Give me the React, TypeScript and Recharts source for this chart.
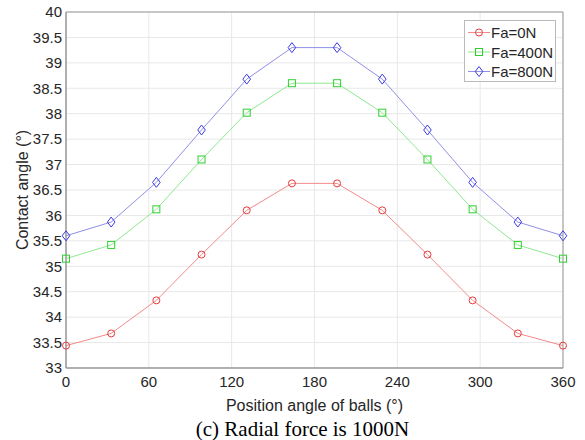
import React from 'react';
import { LineChart, Line, XAxis, YAxis, CartesianGrid, ReferenceArea } from 'recharts';

// ball position angles (12 balls, evenly spaced)
const positions = [0, 32.73, 65.45, 98.18, 130.91, 163.64, 196.36, 229.09, 261.82, 294.55, 327.27, 360];
const fa0 = [33.44, 33.68, 34.33, 35.23, 36.1, 36.63, 36.63, 36.1, 35.23, 34.33, 33.68, 33.44];
const fa400 = [35.15, 35.42, 36.12, 37.1, 38.02, 38.6, 38.6, 38.02, 37.1, 36.12, 35.42, 35.15];
const fa800 = [35.6, 35.87, 36.65, 37.68, 38.68, 39.3, 39.3, 38.68, 37.68, 36.65, 35.87, 35.6];
const xTicks = [0, 60, 120, 180, 240, 300, 360];
const yTicks = [33, 33.5, 34, 34.5, 35, 35.5, 36, 36.5, 37, 37.5, 38, 38.5, 39, 39.5, 40];

const data = positions.map((p, i) => ({ pos: p, a: fa0[i], b: fa400[i], c: fa800[i] }));

const font = '"Liberation Sans", Arial, sans-serif';

const Circle = (props: any) => {
  const { cx, cy } = props;
  return <circle cx={cx} cy={cy} r={3.5} fill="none" stroke="#e83b3b" strokeWidth={1} />;
};
const Square = (props: any) => {
  const { cx, cy } = props;
  return <rect x={cx - 3.5} y={cy - 3.5} width={7} height={7} fill="none" stroke="#2fd12f" strokeWidth={1} />;
};
const Diamond = (props: any) => {
  const { cx, cy } = props;
  return (
    <path d={`M${cx},${cy - 5} L${cx + 3.8},${cy} L${cx},${cy + 5} L${cx - 3.8},${cy} Z`} fill="none" stroke="#3b3be8" strokeWidth={1} />
  );
};

const legendItems = [
  { name: 'Fa=0N', line: '#f28a8a', marker: 'c' },
  { name: 'Fa=400N', line: '#8fe88f', marker: 's' },
  { name: 'Fa=800N', line: '#8f8fe8', marker: 'd' },
];

const Legend = () => (
  <svg width={92} height={62} style={{ position: 'absolute', left: 464, top: 20 }}>
    <rect x={0.5} y={0.5} width={91} height={61} fill="#fff" stroke="#bbb" />
    {legendItems.map((it, i) => {
      const y = 12.5 + i * 19.5;
      return (
        <g key={it.name}>
          <line x1={4} x2={26} y1={y} y2={y} stroke={it.line} strokeWidth={1} />
          {it.marker === 'c' && <Circle cx={15} cy={y} />}
          {it.marker === 's' && <Square cx={15} cy={y} />}
          {it.marker === 'd' && <Diamond cx={15} cy={y} />}
          <text x={27} y={y + 5.5} fontSize={15} fontFamily={font} fill="#262626">{it.name}</text>
        </g>
      );
    })}
  </svg>
);

export default function App() {
  return (
    <div style={{ position: 'absolute', left: 0, top: 0, width: 585, height: 440, background: '#fff' }}>
      <LineChart width={585} height={440} data={data} margin={{ top: 12, right: 22, left: 0, bottom: 42 }}>
        <CartesianGrid stroke="#e8e8e8" strokeWidth={1} />
        <XAxis
          dataKey="pos"
          type="number"
          domain={[0, 360]}
          ticks={xTicks}
          height={30}
          tickSize={0}
          tickMargin={8}
          stroke="#999"
          tick={{ fill: '#262626', fontSize: 15, fontFamily: font }}
          label={{
            value: 'Position angle of balls (°)',
            position: 'insideBottom',
            offset: -13,
            style: { fill: '#262626', fontSize: 16, fontFamily: font },
          }}
        />
        <YAxis
          type="number"
          domain={[33, 40]}
          ticks={yTicks}
          width={66}
          tickSize={0}
          tickMargin={4}
          stroke="#999"
          interval={0}
          tick={{ fill: '#262626', fontSize: 15, fontFamily: font }}
          label={{
            value: 'Contact angle (°)',
            angle: -90,
            position: 'center',
            dx: -11,
            style: { fill: '#262626', fontSize: 16, fontFamily: font, textAnchor: 'middle' },
          }}
        />
        <ReferenceArea x1={0} x2={360} y1={33} y2={40} fill="none" stroke="#999" strokeWidth={1} />
        <Line dataKey="a" stroke="#f28a8a" strokeWidth={1} dot={<Circle />} isAnimationActive={false} />
        <Line dataKey="b" stroke="#8fe88f" strokeWidth={1} dot={<Square />} isAnimationActive={false} />
        <Line dataKey="c" stroke="#8f8fe8" strokeWidth={1} dot={<Diamond />} isAnimationActive={false} />
      </LineChart>
      <Legend />
      <div
        style={{
          position: 'absolute',
          left: 0,
          width: 605,
          top: 417,
          textAlign: 'center',
          fontFamily: '"Liberation Serif", "Times New Roman", serif',
          fontSize: 21,
          color: '#000',
        }}
      >
        (c) Radial force is 1000N
      </div>
    </div>
  );
}
